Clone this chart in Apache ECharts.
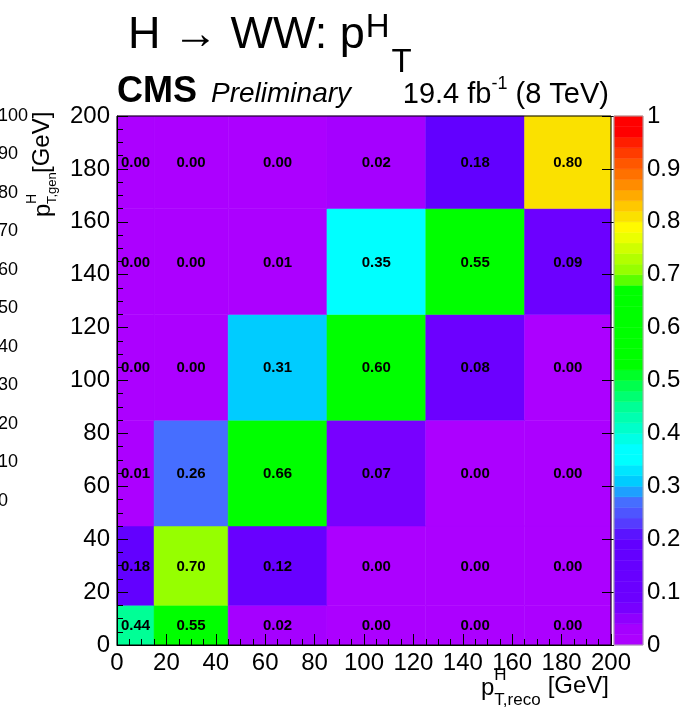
<!DOCTYPE html>
<html><head><meta charset="utf-8">
<script src="https://cdn.jsdelivr.net/npm/echarts@6/dist/echarts.min.js"></script>
<style>html,body{margin:0;padding:0;background:#fff}#c{width:689px;height:707px}</style>
</head><body><div id="c"></div>
<script>
// ---- data ----
const xEdges = [0, 15, 45, 85, 125, 165, 200];   // p_T,reco bin edges [GeV]
const yEdges = [0, 15, 45, 85, 125, 165, 200];   // p_T,gen bin edges [GeV]
// migration matrix, one array per gen bin (bottom to top), columns = reco bins
const gen0 = [0.44, 0.55, 0.02, 0.00, 0.00, 0.00];
const gen1 = [0.18, 0.70, 0.12, 0.00, 0.00, 0.00];
const gen2 = [0.01, 0.26, 0.66, 0.07, 0.00, 0.00];
const gen3 = [0.00, 0.00, 0.31, 0.60, 0.08, 0.00];
const gen4 = [0.00, 0.00, 0.01, 0.35, 0.55, 0.09];
const gen5 = [0.00, 0.00, 0.00, 0.02, 0.18, 0.80];
const genRows = [gen0, gen1, gen2, gen3, gen4, gen5];
const axisMin = 0, axisMax = 200, axisStep = 20;
const zMin = 0, zMax = 1, zStep = 0.1;
const strayMin = 0, strayMax = 100, strayStep = 10;

// ---- palette (50 discrete colours, ROOT-like rainbow); stops at bin lower edges ----
const stops = [
  [0.00, [172, 0, 255]], [0.02, [165, 0, 255]], [0.06, [120, 0, 255]],
  [0.08, [108, 0, 255]], [0.18, [98, 0, 255]], [0.20, [90, 20, 255]],
  [0.22, [85, 60, 255]], [0.26, [70, 110, 255]], [0.28, [30, 160, 255]],
  [0.30, [0, 204, 255]], [0.34, [0, 255, 255]], [0.36, [0, 255, 255]],
  [0.44, [0, 255, 150]], [0.50, [0, 255, 40]], [0.52, [0, 255, 0]],
  [0.66, [0, 255, 0]], [0.68, [90, 255, 0]], [0.70, [150, 255, 0]],
  [0.76, [235, 255, 0]], [0.78, [255, 250, 0]], [0.80, [250, 225, 0]],
  [0.82, [255, 200, 0]], [0.86, [255, 140, 0]], [0.92, [255, 60, 0]],
  [0.96, [255, 0, 0]], [1.00, [255, 0, 0]]
];
const nCol = 50;
function interp(t) {
  for (let i = 1; i < stops.length; i++) {
    if (t <= stops[i][0] + 1e-9) {
      const a = stops[i - 1], b = stops[i];
      const f = (t - a[0]) / (b[0] - a[0]);
      const c = a[1].map((v, k) => Math.round(v + (b[1][k] - v) * f));
      return 'rgb(' + c.join(',') + ')';
    }
  }
  return 'rgb(255,0,0)';
}
const palette = [];
for (let i = 0; i < nCol; i++) palette.push(interp(i / nCol));
function colorFor(v) {
  const idx = Math.max(0, Math.min(nCol - 1, Math.floor((v - zMin) / (zMax - zMin) * nCol + 1e-9)));
  return palette[idx];
}

const cellData = [];
genRows.forEach((row, r) => row.forEach((v, c) => {
  cellData.push([xEdges[c], xEdges[c + 1], yEdges[r], yEdges[r + 1], v]);
}));
const barData = palette.map((col, i) => [i / nCol, (i + 1) / nCol, i]);

const FF = '"Liberation Sans", Arial, Helvetica, sans-serif';
const mctx = document.createElement('canvas').getContext('2d');
function fontStr(size, opts) {
  opts = opts || {};
  return (opts.italic ? 'italic ' : '') + (opts.weight ? opts.weight + ' ' : '') + size + 'px ' + FF;
}
function w(text, size, opts) { mctx.font = fontStr(size, opts); return mctx.measureText(text).width; }
function t(text, x, y, size, opts) {
  opts = opts || {};
  return {
    type: 'text', x: x, y: y, z: 100,
    style: {text: text, fill: '#000', font: fontStr(size, opts),
            align: opts.align || 'left', verticalAlign: 'middle'}
  };
}

// title pieces
const titleMain = 'H \u2192 WW: p', titleSize = 45, titleX = 128;
const titleEnd = titleX + w(titleMain, titleSize);
const titleSupW = w('H', 33);
// luminosity label, right-aligned to 609
const lumA = '19.4 fb', lumSup = '-1', lumB = ' (8 TeV)';
const lumEnd = 609, lumSize = 29, lumSupSize = 18;
const lumBX = lumEnd - w(lumB, lumSize);
const lumSupX = lumBX - w(lumSup, lumSupSize);
const lumAX = lumSupX - w(lumA, lumSize);
// x title, right-aligned to 609
const xtGeV = '[GeV]';
const xtGeVX = 609 - w(xtGeV, 24);
const xtSubX = xtGeVX - 7 - w('T,reco', 17);
const xtPX = xtSubX - w('p', 24);

const chart = echarts.init(document.getElementById('c'), null, {renderer: 'canvas'});
const option = {
  animation: false,
  backgroundColor: '#fff',
  textStyle: {fontFamily: FF},
  grid: [
    {left: 117, top: 116, width: 494, height: 529, show: true, z: 10,
     backgroundColor: 'transparent', borderColor: '#000', borderWidth: 1},
    {left: 614, top: 116, width: 29, height: 529, show: true, z: 10,
     backgroundColor: 'transparent', borderColor: '#aaa', borderWidth: 1},
    {left: 18, top: 116, width: 1, height: 385, show: false}
  ],
  xAxis: [
    {type: 'value', gridIndex: 0, min: axisMin, max: axisMax, interval: axisStep, z: 5,
     axisLine: {show: true, lineStyle: {color: '#000', width: 1}},
     axisTick: {show: true, inside: true, length: 11, lineStyle: {color: '#000'}},
     minorTick: {show: true, splitNumber: 4, length: 6, lineStyle: {color: '#000'}},
     splitLine: {show: false},
     axisLabel: {fontSize: 24, color: '#000', margin: 6}},
    {type: 'value', gridIndex: 1, min: 0, max: 1, show: false},
    {type: 'value', gridIndex: 2, min: 0, max: 1, show: false}
  ],
  yAxis: [
    {type: 'value', gridIndex: 0, min: axisMin, max: axisMax, interval: axisStep, z: 5,
     axisLine: {show: true, lineStyle: {color: '#000', width: 1}},
     axisTick: {show: true, inside: true, length: 11, lineStyle: {color: '#000'}},
     minorTick: {show: true, splitNumber: 4, length: 6, lineStyle: {color: '#000'}},
     splitLine: {show: false},
     axisLabel: {fontSize: 24, color: '#000', margin: 7}},
    {type: 'value', gridIndex: 1, min: zMin, max: zMax, interval: zStep, position: 'right', z: 5,
     axisLine: {show: false},
     axisTick: {show: true, inside: true, length: 12, lineStyle: {color: '#000'}},
     splitLine: {show: false},
     axisLabel: {fontSize: 24, color: '#000', margin: 4}},
    {type: 'value', gridIndex: 2, min: strayMin, max: strayMax, interval: strayStep,
     axisLine: {show: false}, axisTick: {show: false}, splitLine: {show: false},
     axisLabel: {fontSize: 18, color: '#000', margin: 21, align: 'left'}}
  ],
  series: [
    {
      type: 'custom', xAxisIndex: 0, yAxisIndex: 0, data: cellData,
      encode: {x: [0, 1], y: [2, 3]},
      renderItem: function (params, api) {
        const p0 = api.coord([api.value(0), api.value(2)]);
        const p1 = api.coord([api.value(1), api.value(3)]);
        const v = api.value(4);
        return {
          type: 'group', children: [
            {type: 'rect', shape: {x: p0[0], y: p1[1], width: p1[0] - p0[0], height: p0[1] - p1[1]},
             style: {fill: colorFor(v), stroke: colorFor(v), lineWidth: 0.5}},
            {type: 'text', z2: 10, style: {text: v.toFixed(2), x: (p0[0] + p1[0]) / 2, y: (p0[1] + p1[1]) / 2 + 1,
             align: 'center', verticalAlign: 'middle', font: 'bold 15px ' + FF, fill: '#000'}}
          ]
        };
      }
    },
    {
      type: 'custom', xAxisIndex: 1, yAxisIndex: 1, data: barData,
      encode: {y: [0, 1]},
      renderItem: function (params, api) {
        const p0 = api.coord([0, api.value(0)]);
        const p1 = api.coord([1, api.value(1)]);
        const col = palette[api.value(2)];
        return {type: 'rect', shape: {x: p0[0], y: p1[1], width: p1[0] - p0[0], height: p0[1] - p1[1]},
                style: {fill: col, stroke: col, lineWidth: 0.5}};
      }
    }
  ],
  graphic: [
    // main title
    t(titleMain, titleX, 36, titleSize),
    t('H', titleEnd + 1, 28, 33),
    t('T', titleEnd + titleSupW + 3, 63, 33),
    // CMS label
    t('CMS', 117, 92, 36, {weight: 'bold'}),
    t('Preliminary', 211, 94, 28, {italic: true}),
    t(lumA, lumAX, 95, lumSize),
    t(lumSup, lumSupX, 84, lumSupSize),
    t(lumB, lumBX, 95, lumSize),
    // x axis title
    t('p', xtPX, 688, 24),
    t('H', xtSubX, 675, 17),
    t('T,reco', xtSubX, 700, 17),
    t(xtGeV, xtGeVX, 686, 24),
    // y axis title (rotated)
    {type: 'group', x: 43, y: 217, rotation: Math.PI / 2, z: 100, children: [
      t('p', 0, 0, 24),
      t('H', 13, -11, 14),
      t('T,gen', 13, 9, 13),
      t('[GeV]', 44, -1, 24)
    ]}
  ]
};
chart.setOption(option);
</script>
</body></html>
